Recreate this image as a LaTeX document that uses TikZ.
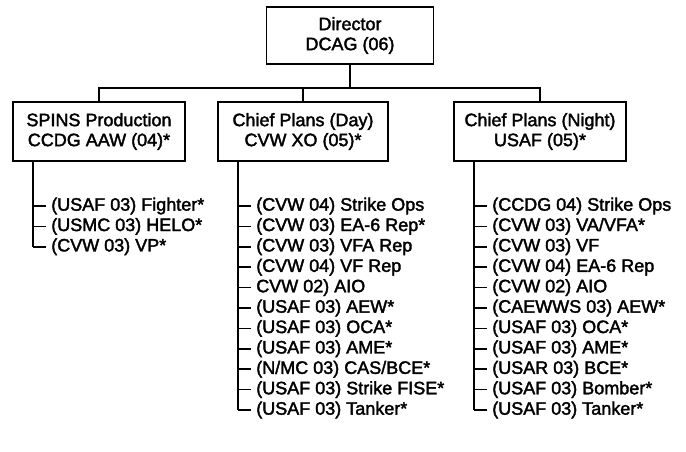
\documentclass[tikz,border=0pt]{standalone}
\usepackage{fontspec}
\setmainfont{Liberation Sans}[BoldFont={Liberation Sans}, BoldFeatures={FakeBold=2}]
\usetikzlibrary{calc, positioning}

\tikzset{
  unit/.style={draw, line width=1.9pt, align=center, inner xsep=4pt,
    font=\fontsize{18}{20}\selectfont\bfseries},
  link/.style={line width=1.6pt},
  entry/.style={anchor=west, inner sep=0pt, font=\fontsize{18}{20}\selectfont\bfseries},
}

\begin{document}
\begin{tikzpicture}[x=1pt, y=1pt]
    \def\rowH{20.4}
    \def\firstY{-206}
    \def\indentX{21}
    \def\tickL{13}
    \def\textX{18}

    \useasboundingbox (0,0) rectangle (686,-451);

    % 1: box name
    % 2: list of entries
    \newcommand{\Entries}[2]{
        \coordinate (#1/top) at ($(#1.south west)+(\indentX,0)$);
        \foreach \txt [count=\i] in {#2}{
            \pgfmathsetmacro{\yy}{\firstY-(\i-1)*\rowH}
            \path let \p1=(#1/top) in coordinate (#1/t\i) at (\x1,\yy);
            \node [entry] (#1/e\i) at ($(#1/t\i)+(\textX,0)$) {\txt};
            \draw [link] (#1/t\i) -- ++(\tickL,0);
            \xdef\lastI{\i}
        }
        \draw [link] (#1/top) -- (#1/t\lastI);
    }

    % The boxes
    \node [unit, minimum width=167pt, minimum height=57pt] (dir) at (350,-35.5) {Director\\DCAG (06)};
    \node [unit, minimum width=172pt, minimum height=59pt] (spins) at (99,-131.5) {SPINS Production\\CCDG AAW (04)*};
    \node [unit, minimum width=170pt, minimum height=59pt] (day) at (303,-131.5) {Chief Plans (Day)\\CVW XO (05)*};
    \node [unit, minimum width=172pt, minimum height=59pt] (night) at (540,-131.5) {Chief Plans (Night)\\USAF (05)*};

    % Tree connectors
    \coordinate (bus) at (0,-88);
    \draw [link] (dir.south) -- (dir.south |- bus);
    \draw [link] (spins.north) |- (night.north |- bus) -- (night.north);
    \draw [link] (day.north) -- (day.north |- bus);

    % The lists
    \Entries{spins}{{(USAF 03) Fighter*},{(USMC 03) HELO*},{(CVW 03) VP*}}
    \Entries{day}{{(CVW 04) Strike Ops},{(CVW 03) EA-6 Rep*},{(CVW 03) VFA Rep},{(CVW 04) VF Rep},{CVW 02) AIO},{(USAF 03) AEW*},{(USAF 03) OCA*},{(USAF 03) AME*},{(N/MC 03) CAS/BCE*},{(USAF 03) Strike FISE*},{(USAF 03) Tanker*}}
    \Entries{night}{{(CCDG 04) Strike Ops},{(CVW 03) VA/VFA*},{(CVW 03) VF},{(CVW 04) EA-6 Rep},{(CVW 02) AIO},{(CAEWWS 03) AEW*},{(USAF 03) OCA*},{(USAF 03) AME*},{(USAR 03) BCE*},{(USAF 03) Bomber*},{(USAF 03) Tanker*}}

\end{tikzpicture}
\end{document}
